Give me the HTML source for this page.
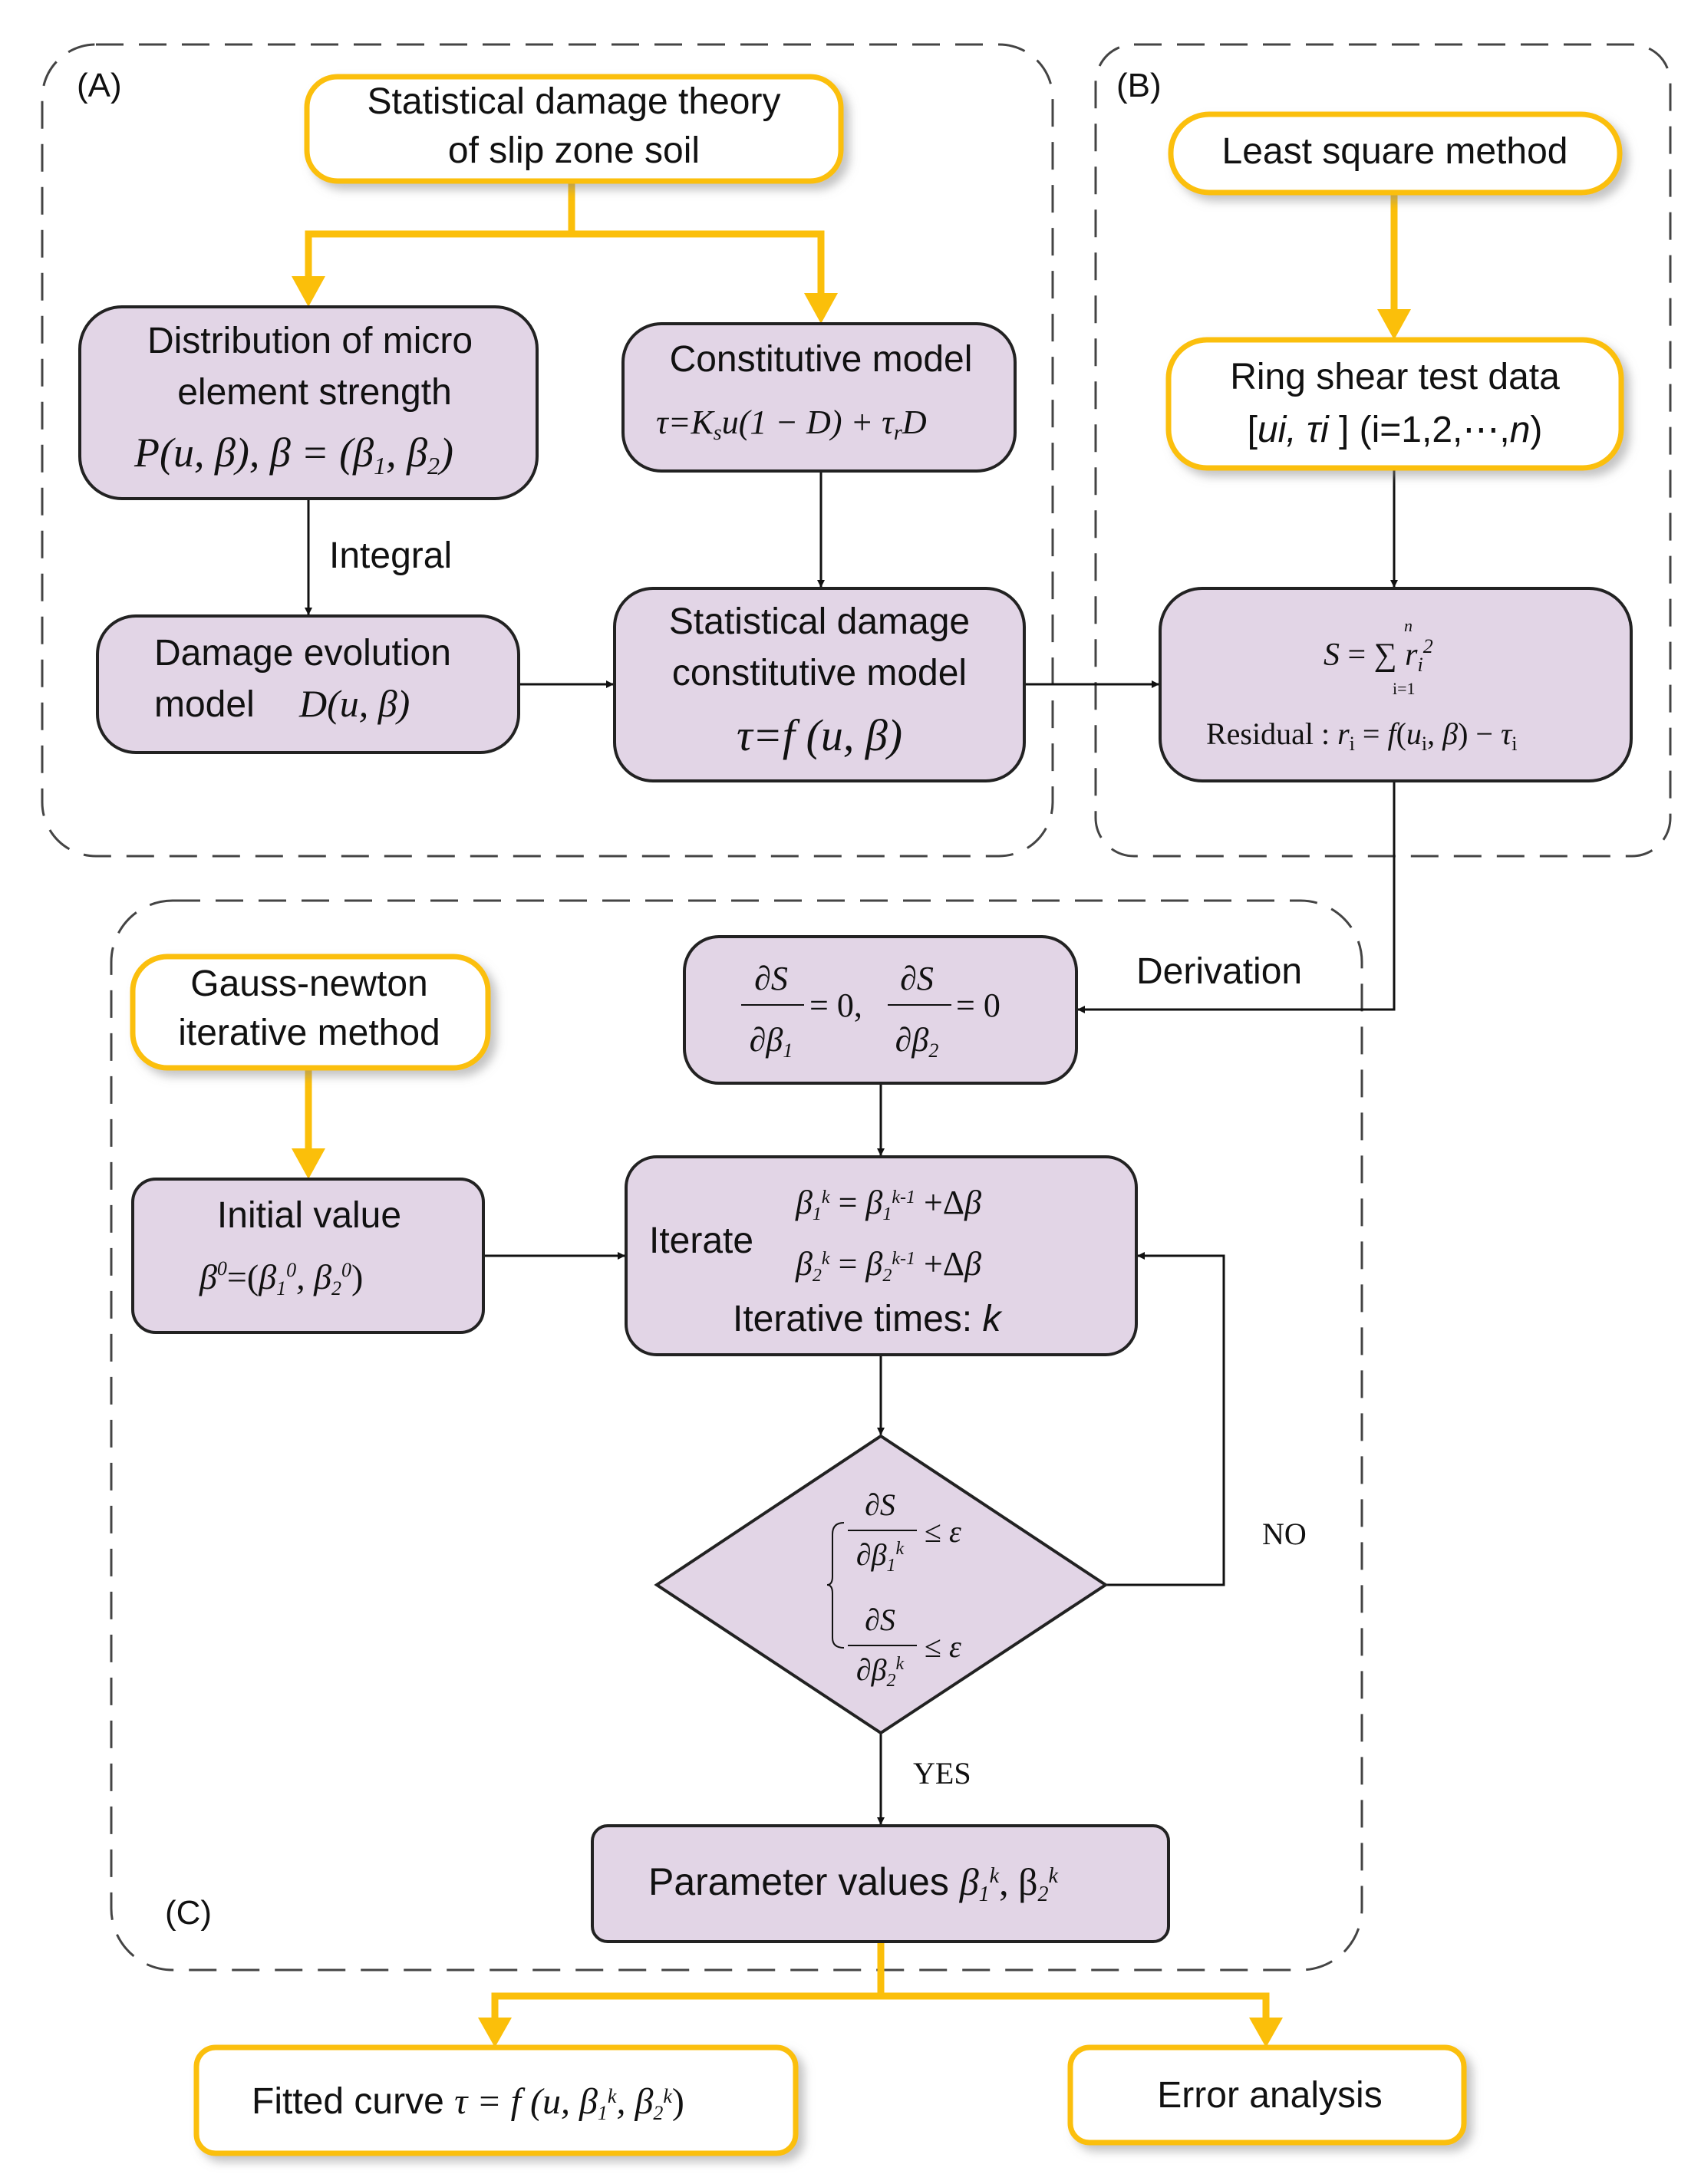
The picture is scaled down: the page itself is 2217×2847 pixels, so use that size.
<!DOCTYPE html>
<html><head><meta charset="utf-8"><style>
html,body{margin:0;padding:0;background:#fff}
svg{display:block}
.s{font-family:"Liberation Sans",sans-serif;fill:#111}
.m{font-family:"Liberation Serif",serif;font-style:italic;fill:#111}
.r{font-family:"Liberation Serif",serif;fill:#111}
</style></head><body>
<svg width="2217" height="2847" viewBox="0 0 2217 2847" xmlns="http://www.w3.org/2000/svg">
<defs>
<filter id="sh" x="-10%" y="-20%" width="130%" height="150%"><feDropShadow dx="8" dy="8" stdDeviation="6" flood-color="#888" flood-opacity="0.5"/></filter>
<marker id="ab" markerWidth="10" markerHeight="10" refX="9" refY="5" orient="auto" markerUnits="userSpaceOnUse" viewBox="0 0 10 10"><path d="M0,0 L10,5 L0,10z" fill="#111"/></marker>
</defs>
<g fill="none" stroke="#444" stroke-width="3" stroke-dasharray="36,20">
<rect x="55" y="58" width="1317" height="1058" rx="70"/>
<rect x="1428" y="58" width="749" height="1058" rx="50"/>
<rect x="145" y="1174" width="1630" height="1394" rx="80"/>
</g>
<text class="s" x="100" y="126" font-size="44">(A)</text>
<text class="s" x="1455" y="126" font-size="44">(B)</text>
<text class="s" x="215" y="2508" font-size="44">(C)</text>

<!-- yellow connectors -->
<g stroke="#fbbf0a" stroke-width="9" fill="none">
<polyline points="745,236 745,305 402,305 402,370"/>
<polyline points="745,305 1070,305 1070,392"/>
<line x1="1817" y1="251" x2="1817" y2="410"/>
<line x1="402" y1="1392" x2="402" y2="1505"/>
<polyline points="1148,2531 1148,2602 645,2602 645,2640"/>
<polyline points="1148,2602 1650,2602 1650,2640"/>
</g>
<g fill="#fbbf0a">
<path d="M380,360 L424,360 L402,400z"/><path d="M1048,382 L1092,382 L1070,422z"/>
<path d="M1795,403 L1839,403 L1817,443z"/><path d="M380,1497 L424,1497 L402,1537z"/>
<path d="M623,2630 L667,2630 L645,2669z"/><path d="M1628,2630 L1672,2630 L1650,2669z"/>
</g>

<!-- black connectors -->
<g stroke="#111" stroke-width="3" fill="none" marker-end="url(#ab)">
<line x1="402" y1="650" x2="402" y2="801"/>
<line x1="1070" y1="614" x2="1070" y2="765"/>
<line x1="676" y1="892" x2="799" y2="892"/>
<line x1="1335" y1="892" x2="1510" y2="892"/>
<line x1="1817" y1="610" x2="1817" y2="765"/>
<polyline points="1817,1018 1817,1316 1405,1316"/>
<line x1="1148" y1="1412" x2="1148" y2="1506"/>
<line x1="630" y1="1637" x2="814" y2="1637"/>
<line x1="1148" y1="1766" x2="1148" y2="1870"/>
<polyline points="1441,2066 1595,2066 1595,1637 1483,1637"/>
<line x1="1148" y1="2259" x2="1148" y2="2378"/>
</g>
<text class="s" x="429" y="740" font-size="48">Integral</text>
<text class="s" x="1481" y="1282" font-size="48">Derivation</text>
<text class="r" x="1645" y="2013" font-size="40">NO</text>
<text class="r" x="1190" y="2325" font-size="40">YES</text>

<!-- yellow boxes -->
<g fill="#fff" stroke="#fbbf0a" stroke-width="7" filter="url(#sh)">
<rect x="400" y="100" width="696" height="136" rx="40"/>
<rect x="1526" y="149" width="585" height="102" rx="50"/>
<rect x="1523" y="443" width="590" height="167" rx="50"/>
<rect x="173" y="1247" width="463" height="145" rx="45"/>
<rect x="256" y="2669" width="781" height="138" rx="25"/>
<rect x="1395" y="2669" width="513" height="124" rx="25"/>
</g>
<!-- purple boxes -->
<g fill="#e2d5e6" stroke="#222" stroke-width="4">
<rect x="104" y="400" width="596" height="250" rx="55"/>
<rect x="812" y="422" width="511" height="192" rx="50"/>
<rect x="127" y="803" width="549" height="178" rx="50"/>
<rect x="801" y="767" width="534" height="251" rx="50"/>
<rect x="1512" y="767" width="614" height="251" rx="55"/>
<rect x="892" y="1221" width="511" height="191" rx="45"/>
<rect x="173" y="1537" width="457" height="200" rx="30"/>
<rect x="816" y="1508" width="665" height="258" rx="40"/>
<path d="M1148,1872 L1441,2066 L1148,2259 L856,2066z"/>
<rect x="772" y="2380" width="751" height="151" rx="20"/>
</g>

<g class="s" font-size="48" text-anchor="middle">
<text x="748" y="148">Statistical damage theory</text>
<text x="748" y="212">of slip zone soil</text>
<text x="1818" y="213">Least square method</text>
<text x="1818" y="507">Ring shear test data</text>
<text x="1818" y="576">[<tspan font-style="italic">ui, τi</tspan> ] (i=1,2,⋯,<tspan font-style="italic">n</tspan>)</text>
<text x="404" y="460">Distribution of micro</text>
<text x="410" y="527">element strength</text>
<text x="1070" y="484">Constitutive model</text>
<text x="1068" y="826">Statistical damage</text>
<text x="1068" y="893">constitutive model</text>
<text x="403" y="1298">Gauss-newton</text>
<text x="403" y="1362">iterative method</text>
<text x="403" y="1600">Initial value</text>
<text x="1655" y="2747">Error analysis</text>
</g>
<text class="s" x="201" y="867" font-size="48">Damage evolution</text>
<text class="s" x="201" y="934" font-size="48">model</text>
<text class="m" x="390" y="934" font-size="50">D(u, β)</text>
<text class="m" x="175" y="608" font-size="54">P(u, β), β = (β<tspan font-size="32" dy="10">1</tspan><tspan dy="-10">, β</tspan><tspan font-size="32" dy="10">2</tspan><tspan dy="-10">)</tspan></text>
<text class="m" x="855" y="565" font-size="44">τ=K<tspan font-size="28" dy="8">s</tspan><tspan dy="-8">u(1 − D) + τ</tspan><tspan font-size="28" dy="8">r</tspan><tspan dy="-8">D</tspan></text>
<text class="m" x="960" y="978" font-size="58">τ=f (u, β)</text>
<text class="m" x="1725" y="867" font-size="42">S <tspan font-style="normal">= ∑</tspan> r<tspan font-size="26" dy="8">i</tspan><tspan font-size="26" dy="-24">2</tspan></text>
<text class="m" x="1830" y="823" font-size="22">n</text>
<text class="r" x="1815" y="905" font-size="22">i=1</text>
<text class="r" x="1572" y="970" font-size="40">Residual : <tspan font-style="italic">r</tspan><tspan font-size="26" dy="8">i</tspan><tspan dy="-8"> = </tspan><tspan font-style="italic">f</tspan>(<tspan font-style="italic">u</tspan><tspan font-size="26" dy="8">i</tspan><tspan dy="-8">, </tspan><tspan font-style="italic">β</tspan>) − <tspan font-style="italic">τ</tspan><tspan font-size="26" dy="8">i</tspan></text>
<!-- dS box -->
<g class="m" font-size="44" text-anchor="middle">
<text x="1005" y="1290">∂S</text><text x="1005" y="1370">∂β<tspan font-size="26" dy="8">1</tspan></text>
<text x="1195" y="1290">∂S</text><text x="1195" y="1370">∂β<tspan font-size="26" dy="8">2</tspan></text>
</g>
<g stroke="#111" stroke-width="2"><line x1="966" y1="1310" x2="1048" y2="1310"/><line x1="1157" y1="1310" x2="1240" y2="1310"/></g>
<text class="r" x="1055" y="1325" font-size="44">= 0,</text>
<text class="r" x="1246" y="1325" font-size="44">= 0</text>
<!-- initial value -->
<text class="m" x="260" y="1680" font-size="46">β<tspan font-size="26" dy="-18">0</tspan><tspan dy="18" font-style="normal">=(</tspan>β<tspan font-size="26" dy="8">1</tspan><tspan font-size="26" dy="-24">0</tspan><tspan dy="16">, β</tspan><tspan font-size="26" dy="8">2</tspan><tspan font-size="26" dy="-24">0</tspan><tspan dy="16" font-style="normal">)</tspan></text>
<!-- iterate -->
<text class="s" x="846" y="1633" font-size="48">Iterate</text>
<text class="m" x="1037" y="1582" font-size="44">β<tspan font-size="24" dy="8">1</tspan><tspan font-size="24" dy="-22">k</tspan><tspan dy="14" font-style="normal"> = </tspan>β<tspan font-size="24" dy="8">1</tspan><tspan font-size="24" dy="-22">k-1</tspan><tspan dy="14" font-style="normal"> +Δ</tspan>β</text>
<text class="m" x="1037" y="1662" font-size="44">β<tspan font-size="24" dy="8">2</tspan><tspan font-size="24" dy="-22">k</tspan><tspan dy="14" font-style="normal"> = </tspan>β<tspan font-size="24" dy="8">2</tspan><tspan font-size="24" dy="-22">k-1</tspan><tspan dy="14" font-style="normal"> +Δ</tspan>β</text>
<text class="s" x="955" y="1735" font-size="48">Iterative times: <tspan font-style="italic">k</tspan></text>
<!-- diamond -->
<path d="M1100,1985 Q1085,1985 1085,2000 L1085,2055 Q1085,2066 1078,2066 Q1085,2066 1085,2077 L1085,2135 Q1085,2148 1100,2148" fill="none" stroke="#111" stroke-width="2"/>
<g class="m" font-size="40" text-anchor="middle">
<text x="1147" y="1975">∂S</text><text x="1147" y="2040">∂β<tspan font-size="24" dy="8">1</tspan><tspan font-size="24" dy="-22">k</tspan></text>
<text x="1147" y="2125">∂S</text><text x="1147" y="2190">∂β<tspan font-size="24" dy="8">2</tspan><tspan font-size="24" dy="-22">k</tspan></text>
</g>
<g stroke="#111" stroke-width="2"><line x1="1105" y1="1995" x2="1195" y2="1995"/><line x1="1105" y1="2145" x2="1195" y2="2145"/></g>
<text class="r" x="1205" y="2010" font-size="40">≤ <tspan font-style="italic">ε</tspan></text>
<text class="r" x="1205" y="2160" font-size="40">≤ <tspan font-style="italic">ε</tspan></text>
<!-- parameter -->
<text class="s" x="845" y="2470" font-size="50">Parameter values <tspan class="m" font-family="Liberation Serif" font-style="italic">β<tspan font-size="28" dy="8">1</tspan><tspan font-size="28" dy="-24">k</tspan><tspan dy="16" font-style="normal">,  β</tspan><tspan font-size="28" dy="8">2</tspan><tspan font-size="28" dy="-24">k</tspan></tspan></text>
<!-- fitted -->
<text class="s" x="328" y="2755" font-size="48">Fitted curve <tspan font-family="Liberation Serif" font-style="italic"> τ = f (u, β<tspan font-size="26" dy="8">1</tspan><tspan font-size="26" dy="-22">k</tspan><tspan dy="14">, β</tspan><tspan font-size="26" dy="8">2</tspan><tspan font-size="26" dy="-22">k</tspan><tspan dy="14" font-style="normal">)</tspan></tspan></text>
</svg>
</body></html>
